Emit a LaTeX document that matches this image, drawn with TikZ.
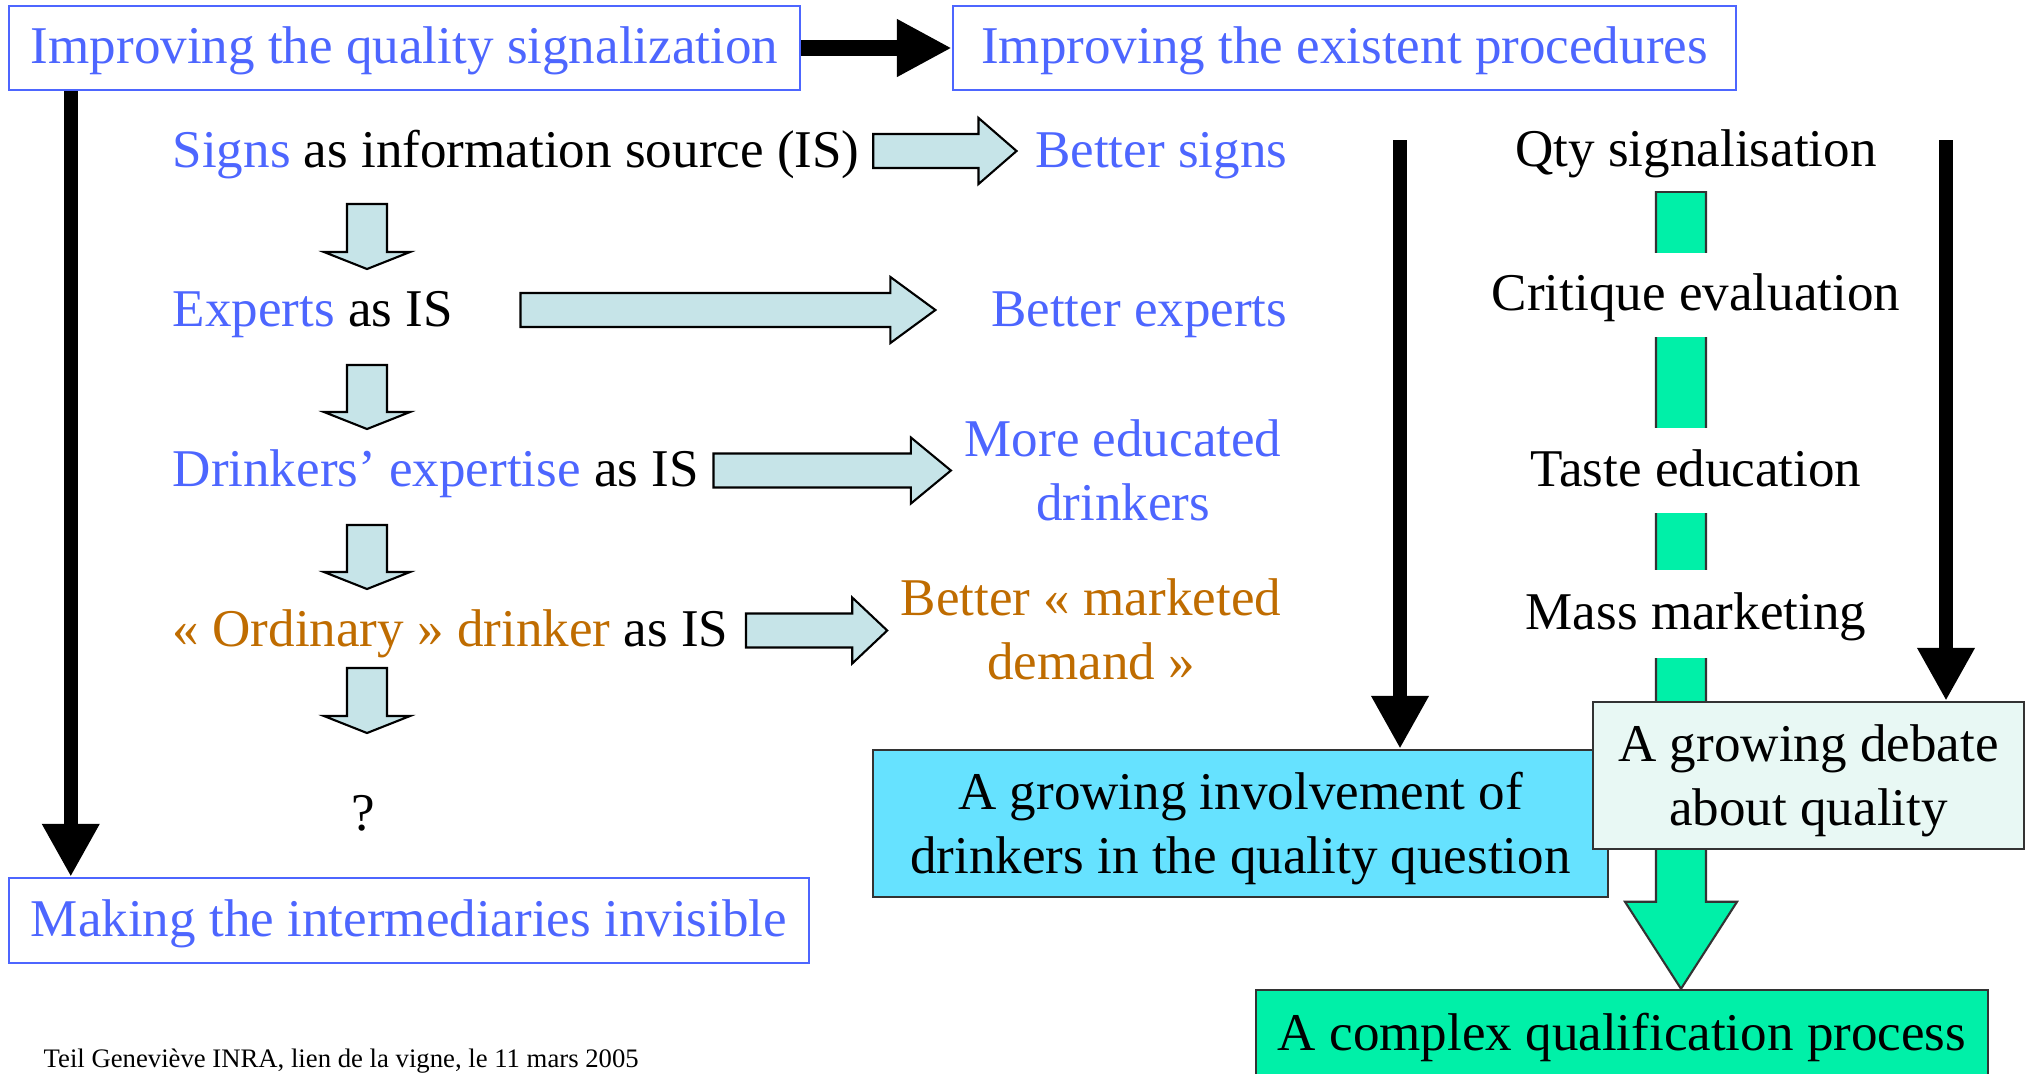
\documentclass[tikz,border=0pt]{standalone}
\usepackage{fontspec}
\setmainfont{Liberation Serif}
\usetikzlibrary{arrows.meta,calc,backgrounds}

\definecolor{qblue}{RGB}{77,102,255}
\definecolor{qorange}{RGB}{191,108,0}
\definecolor{arrowfill}{RGB}{198,228,232}
\definecolor{involfill}{RGB}{102,226,255}
\definecolor{debatefill}{RGB}{232,248,244}
\definecolor{qgreen}{RGB}{0,240,168}

\tikzset{
  txt/.style={inner sep=0pt, font=\fontsize{15.1}{18.3}\selectfont},
  oneline/.style={txt, text height=0.46cm, text depth=0.15cm},
  titlebox/.style={oneline, draw=qblue, line width=0.7pt, text=qblue, minimum height=0.84cm},
  stage/.style={oneline, fill=white, minimum width=4.4cm},
  result/.style={txt, draw=black!80, line width=0.7pt, align=center, minimum height=1.47cm},
  fatarrow/.style={fill=arrowfill, draw=black, line width=0.6pt},
  greenarrow/.style={fill=qgreen, draw=black!80, line width=0.6pt},
  bigarrow/.style={line width=0.14cm, -{Triangle[length=0.53cm, width=0.54cm]}},
}
\newcommand{\topstrut}{\rule{0pt}{0.47cm}}

% block arrow pointing right: start, end, half body, half head, head length
\newcommand{\harrow}[5]{%
  \draw[fatarrow] let \p1=(#1), \p2=(#2) in
    (\x1,\y1+#3) -- (\x2-#5,\y1+#3) -- (\x2-#5,\y1+#4) -- (\x2,\y1)
    -- (\x2-#5,\y1-#4) -- (\x2-#5,\y1-#3) -- (\x1,\y1-#3) -- cycle;}
% block arrow pointing down
\newcommand{\varrow}[6][fatarrow]{%
  \draw[#1] let \p1=(#2), \p2=(#3) in
    (\x1-#4,\y1) -- (\x1-#4,\y2+#6) -- (\x1-#5,\y2+#6) -- (\x1,\y2)
    -- (\x1+#5,\y2+#6) -- (\x1+#4,\y2+#6) -- (\x1+#4,\y1) -- cycle;}

\begin{document}
\begin{tikzpicture}
\useasboundingbox (0,0) rectangle (20.27,-10.73);

% title boxes
\node[titlebox, minimum width=7.91cm] (qsig) at (4.045,-0.48) {Improving the quality signalization};
\node[titlebox, minimum width=7.83cm] (proc) at (13.445,-0.48) {Improving the existent procedures};
\node[titlebox, minimum width=8.00cm, minimum height=0.85cm] (making) at (4.09,-9.205) {Making the intermediaries invisible};

% information sources
\node[txt, anchor=base west] (signs) at (1.72,-1.67) {\textcolor{qblue}{Signs} as information source (IS)};
\node[txt, anchor=base west] (experts) at (1.72,-3.26) {\textcolor{qblue}{Experts} as IS};
\node[txt, anchor=base west] (drinkers) at (1.72,-4.86) {\textcolor{qblue}{Drinkers’ expertise} as IS};
\node[txt, anchor=base west] (ordinary) at (1.72,-6.46) {\textcolor{qorange}{« Ordinary » drinker} as IS};
\node[txt, anchor=base] (qmark) at (3.63,-8.30) {?};

\node[txt, anchor=base east, text=qblue] (bsigns) at (12.88,-1.67) {Better signs};
\node[txt, anchor=base east, text=qblue] (bexperts) at (12.88,-3.26) {Better experts};
\node[txt, align=center, text=qblue] (educated) at (11.23,-4.70) {More educated\\drinkers};
\node[txt, align=center, text=qorange] (marketed) at (10.91,-6.29) {Better « marketed\\demand »};

% right column
\node[stage, minimum height=0.80cm] (qty) at (16.96,-1.51) {Qty signalisation};
\node[stage, minimum height=0.84cm] (critique) at (16.96,-2.95) {Critique evaluation};
\node[stage, minimum height=0.85cm] (taste) at (16.96,-4.705) {Taste education};
\node[stage, minimum height=0.88cm] (mass) at (16.96,-6.14) {Mass marketing};

\node[result, fill=involfill, minimum width=7.35cm] (invol) at (12.405,-8.235) {\topstrut A growing involvement of\\drinkers in the quality question};
\node[result, fill=debatefill, minimum width=4.31cm] (debate) at (18.085,-7.755) {\topstrut A growing debate\\about quality};
\node[titlebox, draw=black!80, text=black, fill=qgreen, minimum width=7.32cm, minimum height=0.9cm] (complex) at (16.22,-10.35) {A complex qualification process};

% green chain under the stages
\coordinate (gx) at (16.81,0);
\begin{scope}[on background layer]
\varrow[greenarrow]{qty.south -| gx}{complex.north -| gx}{0.25cm}{0.56cm}{0.87cm}
\end{scope}

% block arrows
\harrow{[shift={(0.13,0.16)}]signs.base east}{[xshift=-0.18cm]bsigns.west}{0.17cm}{0.33cm}{0.38cm}
\harrow{[shift={(0.67,0.16)}]experts.base east}{[xshift=-0.55cm]bexperts.west}{0.17cm}{0.33cm}{0.45cm}
\harrow{[shift={(0.14,0.155)}]drinkers.base east}{[xshift=-0.13cm]educated.west}{0.17cm}{0.33cm}{0.40cm}
\harrow{[shift={(0.17,0.155)}]ordinary.base east}{[xshift=-0.13cm]marketed.west}{0.17cm}{0.33cm}{0.35cm}
\foreach \a/\b in {2.04/2.69, 3.65/4.29, 5.25/5.89, 6.68/7.33}
  {\varrow{3.67,-\a}{3.67,-\b}{0.20cm}{0.43cm}{0.17cm}}

% black arrows
\draw[bigarrow] ([xshift=0.63cm]qsig.south west) -- ([xshift=0.63cm]making.north west);
\draw[bigarrow, line width=0.16cm, -{Triangle[length=0.55cm, width=0.54cm]}] (qsig.east) -- (proc.west);
\coordinate (lefttop) at (14.00,-1.40);
\coordinate (righttop) at (19.46,-1.40);
\draw[bigarrow] (lefttop) -- (lefttop |- invol.north);
\draw[bigarrow] (righttop) -- (righttop |- debate.north);

\node[anchor=base west, inner sep=0pt, font=\fontsize{7.6}{9}\selectfont] (footer) at (0.43,-10.67) {Teil Geneviève INRA, lien de la vigne, le 11 mars 2005};
\end{tikzpicture}
\end{document}
